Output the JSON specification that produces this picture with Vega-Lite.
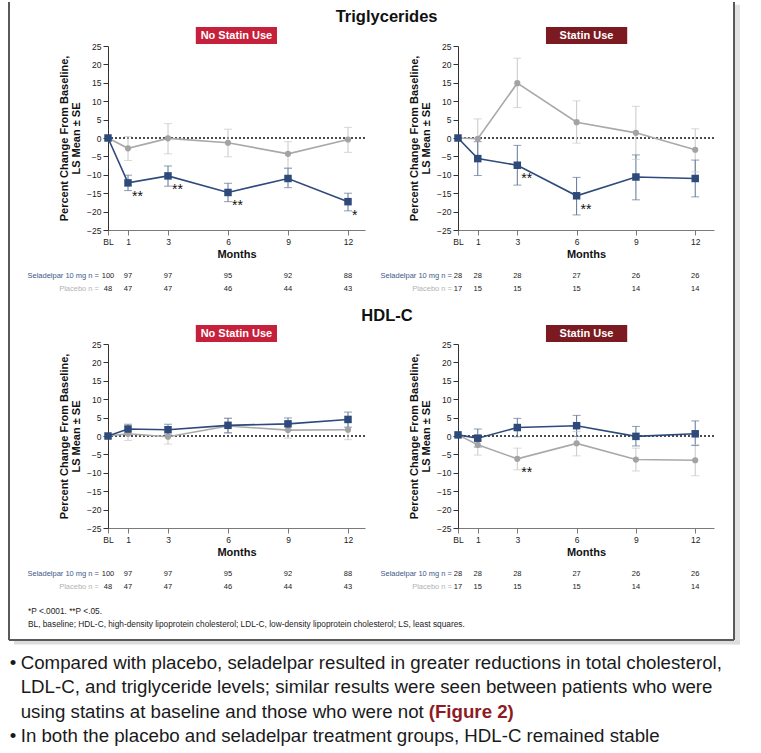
{
  "$schema": "https://vega.github.io/schema/vega-lite/v6.json",
  "background": "white",
  "padding": {"left": 8, "top": 0, "right": 10, "bottom": 4},
  "config": {
    "font": "Liberation Sans",
    "view": {"stroke": null},
    "axis": {"grid": false, "labelFontSize": 8.5, "labelColor": "#222222", "titleColor": "#111111", "titleFontWeight": "bold", "tickSize": 5, "labelPadding": 2, "labelFlush": false, "labelOverlap": false},
    "axisX": {"domainColor": "#7a7a7a", "tickColor": "#7a7a7a", "titleFontSize": 11, "titlePadding": 3},
    "axisY": {"domainColor": "#333333", "tickColor": "#333333", "titleFontSize": 11, "titlePadding": 5, "titleLineHeight": 12.5}
  },
  "datasets": {
    "pts": [
      {"panel": "TG-NS", "group": "Placebo", "month": 0, "mean": 0, "lo": null, "hi": null, "sig": ""},
      {"panel": "TG-NS", "group": "Placebo", "month": 1, "mean": -2.8, "lo": -6.1, "hi": 0.4, "sig": ""},
      {"panel": "TG-NS", "group": "Placebo", "month": 3, "mean": -0.1, "lo": -4.3, "hi": 3.9, "sig": ""},
      {"panel": "TG-NS", "group": "Placebo", "month": 6, "mean": -1.3, "lo": -5.1, "hi": 2.4, "sig": ""},
      {"panel": "TG-NS", "group": "Placebo", "month": 9, "mean": -4.3, "lo": -8.2, "hi": -1.0, "sig": ""},
      {"panel": "TG-NS", "group": "Placebo", "month": 12, "mean": -0.4, "lo": -3.9, "hi": 2.9, "sig": ""},
      {"panel": "TG-NS", "group": "Seladelpar", "month": 0, "mean": 0, "lo": null, "hi": null, "sig": ""},
      {"panel": "TG-NS", "group": "Seladelpar", "month": 1, "mean": -12.2, "lo": -14.3, "hi": -10.1, "sig": "**"},
      {"panel": "TG-NS", "group": "Seladelpar", "month": 3, "mean": -10.3, "lo": -13.1, "hi": -7.6, "sig": "**"},
      {"panel": "TG-NS", "group": "Seladelpar", "month": 6, "mean": -14.8, "lo": -17.3, "hi": -12.3, "sig": "**"},
      {"panel": "TG-NS", "group": "Seladelpar", "month": 9, "mean": -11.0, "lo": -13.5, "hi": -8.2, "sig": ""},
      {"panel": "TG-NS", "group": "Seladelpar", "month": 12, "mean": -17.3, "lo": -19.8, "hi": -15.0, "sig": "*"},
      {"panel": "TG-S", "group": "Placebo", "month": 0, "mean": 0, "lo": null, "hi": null, "sig": ""},
      {"panel": "TG-S", "group": "Placebo", "month": 1, "mean": -0.2, "lo": -5.6, "hi": 5.2, "sig": ""},
      {"panel": "TG-S", "group": "Placebo", "month": 3, "mean": 14.9, "lo": 8.3, "hi": 21.7, "sig": ""},
      {"panel": "TG-S", "group": "Placebo", "month": 6, "mean": 4.3, "lo": -1.4, "hi": 10.1, "sig": ""},
      {"panel": "TG-S", "group": "Placebo", "month": 9, "mean": 1.4, "lo": -5.8, "hi": 8.6, "sig": ""},
      {"panel": "TG-S", "group": "Placebo", "month": 12, "mean": -3.2, "lo": -9.2, "hi": 2.5, "sig": ""},
      {"panel": "TG-S", "group": "Seladelpar", "month": 0, "mean": 0, "lo": null, "hi": null, "sig": ""},
      {"panel": "TG-S", "group": "Seladelpar", "month": 1, "mean": -5.6, "lo": -10.2, "hi": -1.0, "sig": ""},
      {"panel": "TG-S", "group": "Seladelpar", "month": 3, "mean": -7.4, "lo": -12.8, "hi": -2.0, "sig": "**"},
      {"panel": "TG-S", "group": "Seladelpar", "month": 6, "mean": -15.7, "lo": -20.9, "hi": -10.7, "sig": "**"},
      {"panel": "TG-S", "group": "Seladelpar", "month": 9, "mean": -10.6, "lo": -16.8, "hi": -4.6, "sig": ""},
      {"panel": "TG-S", "group": "Seladelpar", "month": 12, "mean": -11.0, "lo": -16.0, "hi": -6.0, "sig": ""},
      {"panel": "HDL-NS", "group": "Placebo", "month": 0, "mean": 0, "lo": null, "hi": null, "sig": ""},
      {"panel": "HDL-NS", "group": "Placebo", "month": 1, "mean": 0.6, "lo": -1.2, "hi": 2.4, "sig": ""},
      {"panel": "HDL-NS", "group": "Placebo", "month": 3, "mean": -0.2, "lo": -2.2, "hi": 1.7, "sig": ""},
      {"panel": "HDL-NS", "group": "Placebo", "month": 6, "mean": 2.7, "lo": 0.7, "hi": 4.9, "sig": ""},
      {"panel": "HDL-NS", "group": "Placebo", "month": 9, "mean": 1.6, "lo": -0.6, "hi": 3.8, "sig": ""},
      {"panel": "HDL-NS", "group": "Placebo", "month": 12, "mean": 1.7, "lo": -1.0, "hi": 3.9, "sig": ""},
      {"panel": "HDL-NS", "group": "Seladelpar", "month": 0, "mean": 0, "lo": null, "hi": null, "sig": ""},
      {"panel": "HDL-NS", "group": "Seladelpar", "month": 1, "mean": 1.9, "lo": 0.6, "hi": 3.2, "sig": ""},
      {"panel": "HDL-NS", "group": "Seladelpar", "month": 3, "mean": 1.7, "lo": 0.3, "hi": 3.2, "sig": ""},
      {"panel": "HDL-NS", "group": "Seladelpar", "month": 6, "mean": 2.9, "lo": 0.9, "hi": 4.8, "sig": ""},
      {"panel": "HDL-NS", "group": "Seladelpar", "month": 9, "mean": 3.3, "lo": 1.7, "hi": 4.9, "sig": ""},
      {"panel": "HDL-NS", "group": "Seladelpar", "month": 12, "mean": 4.5, "lo": 2.4, "hi": 6.5, "sig": ""},
      {"panel": "HDL-S", "group": "Placebo", "month": 0, "mean": 0.3, "lo": null, "hi": null, "sig": ""},
      {"panel": "HDL-S", "group": "Placebo", "month": 1, "mean": -2.4, "lo": -5.2, "hi": 0.4, "sig": ""},
      {"panel": "HDL-S", "group": "Placebo", "month": 3, "mean": -6.2, "lo": -9.2, "hi": -3.3, "sig": "**"},
      {"panel": "HDL-S", "group": "Placebo", "month": 6, "mean": -2.0, "lo": -5.4, "hi": 1.2, "sig": ""},
      {"panel": "HDL-S", "group": "Placebo", "month": 9, "mean": -6.4, "lo": -9.5, "hi": -3.3, "sig": ""},
      {"panel": "HDL-S", "group": "Placebo", "month": 12, "mean": -6.6, "lo": -10.8, "hi": -2.3, "sig": ""},
      {"panel": "HDL-S", "group": "Seladelpar", "month": 0, "mean": 0.3, "lo": null, "hi": null, "sig": ""},
      {"panel": "HDL-S", "group": "Seladelpar", "month": 1, "mean": -0.6, "lo": -3.0, "hi": 1.9, "sig": ""},
      {"panel": "HDL-S", "group": "Seladelpar", "month": 3, "mean": 2.3, "lo": -0.2, "hi": 4.8, "sig": ""},
      {"panel": "HDL-S", "group": "Seladelpar", "month": 6, "mean": 2.8, "lo": -0.1, "hi": 5.6, "sig": ""},
      {"panel": "HDL-S", "group": "Seladelpar", "month": 9, "mean": -0.1, "lo": -2.7, "hi": 2.6, "sig": ""},
      {"panel": "HDL-S", "group": "Seladelpar", "month": 12, "mean": 0.6, "lo": -2.6, "hi": 4.1, "sig": ""}
    ],
    "ns": [
      {"stat": "NS", "group": "Seladelpar", "month": 0, "n": 100},
      {"stat": "NS", "group": "Seladelpar", "month": 1, "n": 97},
      {"stat": "NS", "group": "Seladelpar", "month": 3, "n": 97},
      {"stat": "NS", "group": "Seladelpar", "month": 6, "n": 95},
      {"stat": "NS", "group": "Seladelpar", "month": 9, "n": 92},
      {"stat": "NS", "group": "Seladelpar", "month": 12, "n": 88},
      {"stat": "NS", "group": "Placebo", "month": 0, "n": 48},
      {"stat": "NS", "group": "Placebo", "month": 1, "n": 47},
      {"stat": "NS", "group": "Placebo", "month": 3, "n": 47},
      {"stat": "NS", "group": "Placebo", "month": 6, "n": 46},
      {"stat": "NS", "group": "Placebo", "month": 9, "n": 44},
      {"stat": "NS", "group": "Placebo", "month": 12, "n": 43},
      {"stat": "S", "group": "Seladelpar", "month": 0, "n": 28},
      {"stat": "S", "group": "Seladelpar", "month": 1, "n": 28},
      {"stat": "S", "group": "Seladelpar", "month": 3, "n": 28},
      {"stat": "S", "group": "Seladelpar", "month": 6, "n": 27},
      {"stat": "S", "group": "Seladelpar", "month": 9, "n": 26},
      {"stat": "S", "group": "Seladelpar", "month": 12, "n": 26},
      {"stat": "S", "group": "Placebo", "month": 0, "n": 17},
      {"stat": "S", "group": "Placebo", "month": 1, "n": 15},
      {"stat": "S", "group": "Placebo", "month": 3, "n": 15},
      {"stat": "S", "group": "Placebo", "month": 6, "n": 15},
      {"stat": "S", "group": "Placebo", "month": 9, "n": 14},
      {"stat": "S", "group": "Placebo", "month": 12, "n": 14}
    ],
    "notes": [
      {"line": 1, "text": "Compared with placebo, seladelpar resulted in greater reductions in total cholesterol,", "bullet": true, "ref": ""},
      {"line": 2, "text": "LDL-C, and triglyceride levels; similar results were seen between patients who were", "bullet": false, "ref": ""},
      {"line": 3, "text": "using statins at baseline and those who were not", "bullet": false, "ref": "(Figure 2)"},
      {"line": 4, "text": "In both the placebo and seladelpar treatment groups, HDL-C remained stable", "bullet": true, "ref": ""}
    ]
  },
  "columns": 2,
  "bounds": "flush",
  "spacing": {"row": 114, "column": 93},
  "concat": [
    {
      "width": 257, "height": 184,
      "layer": [
        {"data": {"values": [{"ref": 0}]}, "mark": {"type": "rule", "strokeDash": [2, 2], "strokeWidth": 1.5, "color": "#111111"},
         "encoding": {"y": {"field": "ref", "type": "quantitative", "scale": {"domain": [-25, 25], "nice": false, "zero": false}, "axis": {"values": [-25, -20, -15, -10, -5, 0, 5, 10, 15, 20, 25], "tickCount": 20, "format": "d", "title": ["Percent Change From Baseline,", "LS Mean ± SE"]}}}},
        {"data": {"name": "pts"}, "transform": [{"filter": "datum.panel === 'TG-NS' && isValid(datum.lo)"}],
         "mark": {"type": "rule", "strokeWidth": 1},
         "encoding": {
           "x": {"field": "month", "type": "quantitative", "scale": {"domain": [0, 12.85], "nice": false, "zero": false}, "axis": {"values": [0, 1, 3, 6, 9, 12], "tickCount": 20, "format": "d", "labelExpr": "datum.value === 0 ? 'BL' : datum.label", "title": "Months"}},
           "y": {"field": "lo", "type": "quantitative", "scale": {"domain": [-25, 25], "nice": false, "zero": false}},
           "y2": {"field": "hi"},
           "stroke": {"field": "group", "type": "nominal", "scale": {"domain": ["Seladelpar", "Placebo"], "range": ["#5f7399", "#c8c8c8"]}, "legend": null}}},
        {"data": {"name": "pts"}, "transform": [{"filter": "datum.panel === 'TG-NS' && isValid(datum.lo)"}],
         "mark": {"type": "tick", "orient": "horizontal", "size": 8, "thickness": 1},
         "encoding": {"x": {"field": "month", "type": "quantitative", "scale": {"domain": [0, 12.85], "nice": false, "zero": false}}, "y": {"field": "lo", "type": "quantitative", "scale": {"domain": [-25, 25], "nice": false, "zero": false}},
           "fill": {"field": "group", "type": "nominal", "scale": {"domain": ["Seladelpar", "Placebo"], "range": ["#5f7399", "#c8c8c8"]}, "legend": null}}},
        {"data": {"name": "pts"}, "transform": [{"filter": "datum.panel === 'TG-NS' && isValid(datum.lo)"}],
         "mark": {"type": "tick", "orient": "horizontal", "size": 8, "thickness": 1},
         "encoding": {"x": {"field": "month", "type": "quantitative", "scale": {"domain": [0, 12.85], "nice": false, "zero": false}}, "y": {"field": "hi", "type": "quantitative", "scale": {"domain": [-25, 25], "nice": false, "zero": false}},
           "fill": {"field": "group", "type": "nominal", "scale": {"domain": ["Seladelpar", "Placebo"], "range": ["#5f7399", "#c8c8c8"]}, "legend": null}}},
        {"data": {"name": "pts"}, "transform": [{"filter": "datum.panel === 'TG-NS'"}],
         "mark": {"type": "line", "strokeWidth": 1.6},
         "encoding": {"x": {"field": "month", "type": "quantitative", "scale": {"domain": [0, 12.85], "nice": false, "zero": false}}, "y": {"field": "mean", "type": "quantitative", "scale": {"domain": [-25, 25], "nice": false, "zero": false}},
           "color": {"field": "group", "type": "nominal", "scale": {"domain": ["Seladelpar", "Placebo"], "range": ["#2e4a7b", "#a9a9a9"]}, "legend": null}}},
        {"data": {"name": "pts"}, "transform": [{"filter": "datum.panel === 'TG-NS' && datum.group === 'Placebo'"}],
         "mark": {"type": "circle", "size": 38, "color": "#a3a3a3", "opacity": 1},
         "encoding": {"x": {"field": "month", "type": "quantitative", "scale": {"domain": [0, 12.85], "nice": false, "zero": false}}, "y": {"field": "mean", "type": "quantitative", "scale": {"domain": [-25, 25], "nice": false, "zero": false}}}},
        {"data": {"name": "pts"}, "transform": [{"filter": "datum.panel === 'TG-NS' && datum.group === 'Seladelpar'"}],
         "mark": {"type": "square", "size": 56, "color": "#2e4a7b", "opacity": 1},
         "encoding": {"x": {"field": "month", "type": "quantitative", "scale": {"domain": [0, 12.85], "nice": false, "zero": false}}, "y": {"field": "mean", "type": "quantitative", "scale": {"domain": [-25, 25], "nice": false, "zero": false}}}},
        {"data": {"name": "pts"}, "transform": [{"filter": "datum.panel === 'TG-NS' && datum.sig !== ''"}],
         "mark": {"type": "text", "align": "left", "baseline": "middle", "dx": 4, "dy": 14, "fontSize": 14, "color": "#111111"},
         "encoding": {"x": {"field": "month", "type": "quantitative", "scale": {"domain": [0, 12.85], "nice": false, "zero": false}}, "y": {"field": "mean", "type": "quantitative", "scale": {"domain": [-25, 25], "nice": false, "zero": false}}, "text": {"field": "sig"}}},
        {"data": {"name": "ns"}, "transform": [{"filter": "datum.stat === 'NS' && datum.group === 'Seladelpar'"}],
         "mark": {"type": "text", "baseline": "middle", "fontSize": 7.5, "color": "#222222"},
         "encoding": {"x": {"field": "month", "type": "quantitative", "scale": {"domain": [0, 12.85], "nice": false, "zero": false}}, "y": {"datum": -37.5, "type": "quantitative", "scale": {"domain": [-25, 25], "nice": false, "zero": false}}, "text": {"field": "n"}}},
        {"data": {"name": "ns"}, "transform": [{"filter": "datum.stat === 'NS' && datum.group === 'Placebo'"}],
         "mark": {"type": "text", "baseline": "middle", "fontSize": 7.5, "color": "#222222"},
         "encoding": {"x": {"field": "month", "type": "quantitative", "scale": {"domain": [0, 12.85], "nice": false, "zero": false}}, "y": {"datum": -41.1, "type": "quantitative", "scale": {"domain": [-25, 25], "nice": false, "zero": false}}, "text": {"field": "n"}}},
        {"data": {"values": [{"label": "Seladelpar 10 mg n ="}]},
         "mark": {"type": "text", "align": "right", "baseline": "middle", "dx": -9, "fontSize": 7.5, "color": "#3e5a8b"},
         "encoding": {"x": {"datum": 0, "type": "quantitative", "scale": {"domain": [0, 12.85], "nice": false, "zero": false}}, "y": {"datum": -37.5, "type": "quantitative", "scale": {"domain": [-25, 25], "nice": false, "zero": false}}, "text": {"field": "label"}}},
        {"data": {"values": [{"label": "Placebo n ="}]},
         "mark": {"type": "text", "align": "right", "baseline": "middle", "dx": -9, "fontSize": 7.5, "color": "#b3b3b3"},
         "encoding": {"x": {"datum": 0, "type": "quantitative", "scale": {"domain": [0, 12.85], "nice": false, "zero": false}}, "y": {"datum": -41.1, "type": "quantitative", "scale": {"domain": [-25, 25], "nice": false, "zero": false}}, "text": {"field": "label"}}},
        {"data": {"values": [{"badge": "No Statin Use"}]},
         "mark": {"type": "rect", "color": "#c6203b"},
         "encoding": {"x": {"datum": 4.39, "type": "quantitative", "scale": {"domain": [0, 12.85], "nice": false, "zero": false}}, "x2": {"datum": 8.45}, "y": {"datum": 30.16, "type": "quantitative", "scale": {"domain": [-25, 25], "nice": false, "zero": false}}, "y2": {"datum": 25.54}}},
        {"data": {"values": [{"badge": "No Statin Use"}]},
         "mark": {"type": "text", "baseline": "middle", "fontSize": 11, "fontWeight": "bold", "color": "white"},
         "encoding": {"x": {"datum": 6.42, "type": "quantitative", "scale": {"domain": [0, 12.85], "nice": false, "zero": false}}, "y": {"datum": 27.85, "type": "quantitative", "scale": {"domain": [-25, 25], "nice": false, "zero": false}}, "text": {"field": "badge"}}},
        {"data": {"values": [{"section": "Triglycerides"}]},
         "mark": {"type": "text", "baseline": "middle", "fontSize": 16.5, "fontWeight": "bold", "color": "#111111"},
         "encoding": {"x": {"datum": 13.93, "type": "quantitative", "scale": {"domain": [0, 12.85], "nice": false, "zero": false}}, "y": {"datum": 32.9, "type": "quantitative", "scale": {"domain": [-25, 25], "nice": false, "zero": false}}, "text": {"field": "section"}}},
        {"data": {"values": [{"frame": 1}]}, "mark": {"type": "rule", "color": "#e2e2e2", "strokeWidth": 5},
         "encoding": {"x": {"datum": 31.475, "type": "quantitative", "scale": {"domain": [0, 12.85], "nice": false, "zero": false}}, "y": {"datum": 36.2, "type": "quantitative", "scale": {"domain": [-25, 25], "nice": false, "zero": false}}, "y2": {"datum": -137.6}}},
        {"data": {"values": [{"frame": 1}]}, "mark": {"type": "rule", "color": "#dcdcdc", "strokeWidth": 4},
         "encoding": {"x": {"datum": -4.7, "type": "quantitative", "scale": {"domain": [0, 12.85], "nice": false, "zero": false}}, "x2": {"datum": 31.6}, "y": {"datum": -137.1, "type": "quantitative", "scale": {"domain": [-25, 25], "nice": false, "zero": false}}}},
        {"data": {"values": [{"frame": 1}]}, "mark": {"type": "rule", "color": "#595959", "strokeWidth": 2},
         "encoding": {"x": {"datum": -4.95, "type": "quantitative", "scale": {"domain": [0, 12.85], "nice": false, "zero": false}}, "y": {"datum": 36.96, "type": "quantitative", "scale": {"domain": [-25, 25], "nice": false, "zero": false}}, "y2": {"datum": -136.4}}},
        {"data": {"values": [{"frame": 1}]}, "mark": {"type": "rule", "color": "#595959", "strokeWidth": 2},
         "encoding": {"x": {"datum": 31.3, "type": "quantitative", "scale": {"domain": [0, 12.85], "nice": false, "zero": false}}, "y": {"datum": 36.96, "type": "quantitative", "scale": {"domain": [-25, 25], "nice": false, "zero": false}}, "y2": {"datum": -136.4}}},
        {"data": {"values": [{"frame": 1}]}, "mark": {"type": "rule", "color": "#595959", "strokeWidth": 2},
         "encoding": {"x": {"datum": -4.95, "type": "quantitative", "scale": {"domain": [0, 12.85], "nice": false, "zero": false}}, "x2": {"datum": 31.3}, "y": {"datum": -136.4, "type": "quantitative", "scale": {"domain": [-25, 25], "nice": false, "zero": false}}}}
      ]
    },
    {
      "width": 256, "height": 184,
      "layer": [
        {"data": {"values": [{"ref": 0}]}, "mark": {"type": "rule", "strokeDash": [2, 2], "strokeWidth": 1.5, "color": "#111111"},
         "encoding": {"y": {"field": "ref", "type": "quantitative", "scale": {"domain": [-25, 25], "nice": false, "zero": false}, "axis": {"values": [-25, -20, -15, -10, -5, 0, 5, 10, 15, 20, 25], "tickCount": 20, "format": "d", "title": ["Percent Change From Baseline,", "LS Mean ± SE"]}}}},
        {"data": {"name": "pts"}, "transform": [{"filter": "datum.panel === 'TG-S' && isValid(datum.lo)"}],
         "mark": {"type": "rule", "strokeWidth": 1},
         "encoding": {
           "x": {"field": "month", "type": "quantitative", "scale": {"domain": [0, 12.95], "nice": false, "zero": false}, "axis": {"values": [0, 1, 3, 6, 9, 12], "tickCount": 20, "format": "d", "labelExpr": "datum.value === 0 ? 'BL' : datum.label", "title": "Months"}},
           "y": {"field": "lo", "type": "quantitative", "scale": {"domain": [-25, 25], "nice": false, "zero": false}},
           "y2": {"field": "hi"},
           "stroke": {"field": "group", "type": "nominal", "scale": {"domain": ["Seladelpar", "Placebo"], "range": ["#5f7399", "#c8c8c8"]}, "legend": null}}},
        {"data": {"name": "pts"}, "transform": [{"filter": "datum.panel === 'TG-S' && isValid(datum.lo)"}],
         "mark": {"type": "tick", "orient": "horizontal", "size": 8, "thickness": 1},
         "encoding": {"x": {"field": "month", "type": "quantitative", "scale": {"domain": [0, 12.95], "nice": false, "zero": false}}, "y": {"field": "lo", "type": "quantitative", "scale": {"domain": [-25, 25], "nice": false, "zero": false}},
           "fill": {"field": "group", "type": "nominal", "scale": {"domain": ["Seladelpar", "Placebo"], "range": ["#5f7399", "#c8c8c8"]}, "legend": null}}},
        {"data": {"name": "pts"}, "transform": [{"filter": "datum.panel === 'TG-S' && isValid(datum.lo)"}],
         "mark": {"type": "tick", "orient": "horizontal", "size": 8, "thickness": 1},
         "encoding": {"x": {"field": "month", "type": "quantitative", "scale": {"domain": [0, 12.95], "nice": false, "zero": false}}, "y": {"field": "hi", "type": "quantitative", "scale": {"domain": [-25, 25], "nice": false, "zero": false}},
           "fill": {"field": "group", "type": "nominal", "scale": {"domain": ["Seladelpar", "Placebo"], "range": ["#5f7399", "#c8c8c8"]}, "legend": null}}},
        {"data": {"name": "pts"}, "transform": [{"filter": "datum.panel === 'TG-S'"}],
         "mark": {"type": "line", "strokeWidth": 1.6},
         "encoding": {"x": {"field": "month", "type": "quantitative", "scale": {"domain": [0, 12.95], "nice": false, "zero": false}}, "y": {"field": "mean", "type": "quantitative", "scale": {"domain": [-25, 25], "nice": false, "zero": false}},
           "color": {"field": "group", "type": "nominal", "scale": {"domain": ["Seladelpar", "Placebo"], "range": ["#2e4a7b", "#a9a9a9"]}, "legend": null}}},
        {"data": {"name": "pts"}, "transform": [{"filter": "datum.panel === 'TG-S' && datum.group === 'Placebo'"}],
         "mark": {"type": "circle", "size": 38, "color": "#a3a3a3", "opacity": 1},
         "encoding": {"x": {"field": "month", "type": "quantitative", "scale": {"domain": [0, 12.95], "nice": false, "zero": false}}, "y": {"field": "mean", "type": "quantitative", "scale": {"domain": [-25, 25], "nice": false, "zero": false}}}},
        {"data": {"name": "pts"}, "transform": [{"filter": "datum.panel === 'TG-S' && datum.group === 'Seladelpar'"}],
         "mark": {"type": "square", "size": 56, "color": "#2e4a7b", "opacity": 1},
         "encoding": {"x": {"field": "month", "type": "quantitative", "scale": {"domain": [0, 12.95], "nice": false, "zero": false}}, "y": {"field": "mean", "type": "quantitative", "scale": {"domain": [-25, 25], "nice": false, "zero": false}}}},
        {"data": {"name": "pts"}, "transform": [{"filter": "datum.panel === 'TG-S' && datum.sig !== ''"}],
         "mark": {"type": "text", "align": "left", "baseline": "middle", "dx": 4, "dy": 14, "fontSize": 14, "color": "#111111"},
         "encoding": {"x": {"field": "month", "type": "quantitative", "scale": {"domain": [0, 12.95], "nice": false, "zero": false}}, "y": {"field": "mean", "type": "quantitative", "scale": {"domain": [-25, 25], "nice": false, "zero": false}}, "text": {"field": "sig"}}},
        {"data": {"name": "ns"}, "transform": [{"filter": "datum.stat === 'S' && datum.group === 'Seladelpar'"}],
         "mark": {"type": "text", "baseline": "middle", "fontSize": 7.5, "color": "#222222"},
         "encoding": {"x": {"field": "month", "type": "quantitative", "scale": {"domain": [0, 12.95], "nice": false, "zero": false}}, "y": {"datum": -37.5, "type": "quantitative", "scale": {"domain": [-25, 25], "nice": false, "zero": false}}, "text": {"field": "n"}}},
        {"data": {"name": "ns"}, "transform": [{"filter": "datum.stat === 'S' && datum.group === 'Placebo'"}],
         "mark": {"type": "text", "baseline": "middle", "fontSize": 7.5, "color": "#222222"},
         "encoding": {"x": {"field": "month", "type": "quantitative", "scale": {"domain": [0, 12.95], "nice": false, "zero": false}}, "y": {"datum": -41.1, "type": "quantitative", "scale": {"domain": [-25, 25], "nice": false, "zero": false}}, "text": {"field": "n"}}},
        {"data": {"values": [{"label": "Seladelpar 10 mg n ="}]},
         "mark": {"type": "text", "align": "right", "baseline": "middle", "dx": -6, "fontSize": 7.5, "color": "#3e5a8b"},
         "encoding": {"x": {"datum": 0, "type": "quantitative", "scale": {"domain": [0, 12.95], "nice": false, "zero": false}}, "y": {"datum": -37.5, "type": "quantitative", "scale": {"domain": [-25, 25], "nice": false, "zero": false}}, "text": {"field": "label"}}},
        {"data": {"values": [{"label": "Placebo n ="}]},
         "mark": {"type": "text", "align": "right", "baseline": "middle", "dx": -6, "fontSize": 7.5, "color": "#b3b3b3"},
         "encoding": {"x": {"datum": 0, "type": "quantitative", "scale": {"domain": [0, 12.95], "nice": false, "zero": false}}, "y": {"datum": -41.1, "type": "quantitative", "scale": {"domain": [-25, 25], "nice": false, "zero": false}}, "text": {"field": "label"}}},
        {"data": {"values": [{"badge": "Statin Use"}]},
         "mark": {"type": "rect", "color": "#7b1a20"},
         "encoding": {"x": {"datum": 4.45, "type": "quantitative", "scale": {"domain": [0, 12.95], "nice": false, "zero": false}}, "x2": {"datum": 8.56}, "y": {"datum": 30.16, "type": "quantitative", "scale": {"domain": [-25, 25], "nice": false, "zero": false}}, "y2": {"datum": 25.54}}},
        {"data": {"values": [{"badge": "Statin Use"}]},
         "mark": {"type": "text", "baseline": "middle", "fontSize": 11, "fontWeight": "bold", "color": "white"},
         "encoding": {"x": {"datum": 6.5, "type": "quantitative", "scale": {"domain": [0, 12.95], "nice": false, "zero": false}}, "y": {"datum": 27.85, "type": "quantitative", "scale": {"domain": [-25, 25], "nice": false, "zero": false}}, "text": {"field": "badge"}}}
      ]
    },
    {
      "width": 257, "height": 184,
      "layer": [
        {"data": {"values": [{"ref": 0}]}, "mark": {"type": "rule", "strokeDash": [2, 2], "strokeWidth": 1.5, "color": "#111111"},
         "encoding": {"y": {"field": "ref", "type": "quantitative", "scale": {"domain": [-25, 25], "nice": false, "zero": false}, "axis": {"values": [-25, -20, -15, -10, -5, 0, 5, 10, 15, 20, 25], "tickCount": 20, "format": "d", "title": ["Percent Change From Baseline,", "LS Mean ± SE"]}}}},
        {"data": {"name": "pts"}, "transform": [{"filter": "datum.panel === 'HDL-NS' && isValid(datum.lo)"}],
         "mark": {"type": "rule", "strokeWidth": 1},
         "encoding": {
           "x": {"field": "month", "type": "quantitative", "scale": {"domain": [0, 12.85], "nice": false, "zero": false}, "axis": {"values": [0, 1, 3, 6, 9, 12], "tickCount": 20, "format": "d", "labelExpr": "datum.value === 0 ? 'BL' : datum.label", "title": "Months"}},
           "y": {"field": "lo", "type": "quantitative", "scale": {"domain": [-25, 25], "nice": false, "zero": false}},
           "y2": {"field": "hi"},
           "stroke": {"field": "group", "type": "nominal", "scale": {"domain": ["Seladelpar", "Placebo"], "range": ["#5f7399", "#c8c8c8"]}, "legend": null}}},
        {"data": {"name": "pts"}, "transform": [{"filter": "datum.panel === 'HDL-NS' && isValid(datum.lo)"}],
         "mark": {"type": "tick", "orient": "horizontal", "size": 8, "thickness": 1},
         "encoding": {"x": {"field": "month", "type": "quantitative", "scale": {"domain": [0, 12.85], "nice": false, "zero": false}}, "y": {"field": "lo", "type": "quantitative", "scale": {"domain": [-25, 25], "nice": false, "zero": false}},
           "fill": {"field": "group", "type": "nominal", "scale": {"domain": ["Seladelpar", "Placebo"], "range": ["#5f7399", "#c8c8c8"]}, "legend": null}}},
        {"data": {"name": "pts"}, "transform": [{"filter": "datum.panel === 'HDL-NS' && isValid(datum.lo)"}],
         "mark": {"type": "tick", "orient": "horizontal", "size": 8, "thickness": 1},
         "encoding": {"x": {"field": "month", "type": "quantitative", "scale": {"domain": [0, 12.85], "nice": false, "zero": false}}, "y": {"field": "hi", "type": "quantitative", "scale": {"domain": [-25, 25], "nice": false, "zero": false}},
           "fill": {"field": "group", "type": "nominal", "scale": {"domain": ["Seladelpar", "Placebo"], "range": ["#5f7399", "#c8c8c8"]}, "legend": null}}},
        {"data": {"name": "pts"}, "transform": [{"filter": "datum.panel === 'HDL-NS'"}],
         "mark": {"type": "line", "strokeWidth": 1.6},
         "encoding": {"x": {"field": "month", "type": "quantitative", "scale": {"domain": [0, 12.85], "nice": false, "zero": false}}, "y": {"field": "mean", "type": "quantitative", "scale": {"domain": [-25, 25], "nice": false, "zero": false}},
           "color": {"field": "group", "type": "nominal", "scale": {"domain": ["Seladelpar", "Placebo"], "range": ["#2e4a7b", "#a9a9a9"]}, "legend": null}}},
        {"data": {"name": "pts"}, "transform": [{"filter": "datum.panel === 'HDL-NS' && datum.group === 'Placebo'"}],
         "mark": {"type": "circle", "size": 38, "color": "#a3a3a3", "opacity": 1},
         "encoding": {"x": {"field": "month", "type": "quantitative", "scale": {"domain": [0, 12.85], "nice": false, "zero": false}}, "y": {"field": "mean", "type": "quantitative", "scale": {"domain": [-25, 25], "nice": false, "zero": false}}}},
        {"data": {"name": "pts"}, "transform": [{"filter": "datum.panel === 'HDL-NS' && datum.group === 'Seladelpar'"}],
         "mark": {"type": "square", "size": 56, "color": "#2e4a7b", "opacity": 1},
         "encoding": {"x": {"field": "month", "type": "quantitative", "scale": {"domain": [0, 12.85], "nice": false, "zero": false}}, "y": {"field": "mean", "type": "quantitative", "scale": {"domain": [-25, 25], "nice": false, "zero": false}}}},
        {"data": {"name": "ns"}, "transform": [{"filter": "datum.stat === 'NS' && datum.group === 'Seladelpar'"}],
         "mark": {"type": "text", "baseline": "middle", "fontSize": 7.5, "color": "#222222"},
         "encoding": {"x": {"field": "month", "type": "quantitative", "scale": {"domain": [0, 12.85], "nice": false, "zero": false}}, "y": {"datum": -37.5, "type": "quantitative", "scale": {"domain": [-25, 25], "nice": false, "zero": false}}, "text": {"field": "n"}}},
        {"data": {"name": "ns"}, "transform": [{"filter": "datum.stat === 'NS' && datum.group === 'Placebo'"}],
         "mark": {"type": "text", "baseline": "middle", "fontSize": 7.5, "color": "#222222"},
         "encoding": {"x": {"field": "month", "type": "quantitative", "scale": {"domain": [0, 12.85], "nice": false, "zero": false}}, "y": {"datum": -41.1, "type": "quantitative", "scale": {"domain": [-25, 25], "nice": false, "zero": false}}, "text": {"field": "n"}}},
        {"data": {"values": [{"label": "Seladelpar 10 mg n ="}]},
         "mark": {"type": "text", "align": "right", "baseline": "middle", "dx": -9, "fontSize": 7.5, "color": "#3e5a8b"},
         "encoding": {"x": {"datum": 0, "type": "quantitative", "scale": {"domain": [0, 12.85], "nice": false, "zero": false}}, "y": {"datum": -37.5, "type": "quantitative", "scale": {"domain": [-25, 25], "nice": false, "zero": false}}, "text": {"field": "label"}}},
        {"data": {"values": [{"label": "Placebo n ="}]},
         "mark": {"type": "text", "align": "right", "baseline": "middle", "dx": -9, "fontSize": 7.5, "color": "#b3b3b3"},
         "encoding": {"x": {"datum": 0, "type": "quantitative", "scale": {"domain": [0, 12.85], "nice": false, "zero": false}}, "y": {"datum": -41.1, "type": "quantitative", "scale": {"domain": [-25, 25], "nice": false, "zero": false}}, "text": {"field": "label"}}},
        {"data": {"values": [{"badge": "No Statin Use"}]},
         "mark": {"type": "rect", "color": "#c6203b"},
         "encoding": {"x": {"datum": 4.39, "type": "quantitative", "scale": {"domain": [0, 12.85], "nice": false, "zero": false}}, "x2": {"datum": 8.45}, "y": {"datum": 30.16, "type": "quantitative", "scale": {"domain": [-25, 25], "nice": false, "zero": false}}, "y2": {"datum": 25.54}}},
        {"data": {"values": [{"badge": "No Statin Use"}]},
         "mark": {"type": "text", "baseline": "middle", "fontSize": 11, "fontWeight": "bold", "color": "white"},
         "encoding": {"x": {"datum": 6.42, "type": "quantitative", "scale": {"domain": [0, 12.85], "nice": false, "zero": false}}, "y": {"datum": 27.85, "type": "quantitative", "scale": {"domain": [-25, 25], "nice": false, "zero": false}}, "text": {"field": "badge"}}},
        {"data": {"values": [{"section": "HDL-C"}]},
         "mark": {"type": "text", "baseline": "middle", "fontSize": 16.5, "fontWeight": "bold", "color": "#111111"},
         "encoding": {"x": {"datum": 13.95, "type": "quantitative", "scale": {"domain": [0, 12.85], "nice": false, "zero": false}}, "y": {"datum": 32.5, "type": "quantitative", "scale": {"domain": [-25, 25], "nice": false, "zero": false}}, "text": {"field": "section"}}}
      ]
    },
    {
      "width": 256, "height": 184,
      "layer": [
        {"data": {"values": [{"ref": 0}]}, "mark": {"type": "rule", "strokeDash": [2, 2], "strokeWidth": 1.5, "color": "#111111"},
         "encoding": {"y": {"field": "ref", "type": "quantitative", "scale": {"domain": [-25, 25], "nice": false, "zero": false}, "axis": {"values": [-25, -20, -15, -10, -5, 0, 5, 10, 15, 20, 25], "tickCount": 20, "format": "d", "title": ["Percent Change From Baseline,", "LS Mean ± SE"]}}}},
        {"data": {"name": "pts"}, "transform": [{"filter": "datum.panel === 'HDL-S' && isValid(datum.lo)"}],
         "mark": {"type": "rule", "strokeWidth": 1},
         "encoding": {
           "x": {"field": "month", "type": "quantitative", "scale": {"domain": [0, 12.95], "nice": false, "zero": false}, "axis": {"values": [0, 1, 3, 6, 9, 12], "tickCount": 20, "format": "d", "labelExpr": "datum.value === 0 ? 'BL' : datum.label", "title": "Months"}},
           "y": {"field": "lo", "type": "quantitative", "scale": {"domain": [-25, 25], "nice": false, "zero": false}},
           "y2": {"field": "hi"},
           "stroke": {"field": "group", "type": "nominal", "scale": {"domain": ["Seladelpar", "Placebo"], "range": ["#5f7399", "#c8c8c8"]}, "legend": null}}},
        {"data": {"name": "pts"}, "transform": [{"filter": "datum.panel === 'HDL-S' && isValid(datum.lo)"}],
         "mark": {"type": "tick", "orient": "horizontal", "size": 8, "thickness": 1},
         "encoding": {"x": {"field": "month", "type": "quantitative", "scale": {"domain": [0, 12.95], "nice": false, "zero": false}}, "y": {"field": "lo", "type": "quantitative", "scale": {"domain": [-25, 25], "nice": false, "zero": false}},
           "fill": {"field": "group", "type": "nominal", "scale": {"domain": ["Seladelpar", "Placebo"], "range": ["#5f7399", "#c8c8c8"]}, "legend": null}}},
        {"data": {"name": "pts"}, "transform": [{"filter": "datum.panel === 'HDL-S' && isValid(datum.lo)"}],
         "mark": {"type": "tick", "orient": "horizontal", "size": 8, "thickness": 1},
         "encoding": {"x": {"field": "month", "type": "quantitative", "scale": {"domain": [0, 12.95], "nice": false, "zero": false}}, "y": {"field": "hi", "type": "quantitative", "scale": {"domain": [-25, 25], "nice": false, "zero": false}},
           "fill": {"field": "group", "type": "nominal", "scale": {"domain": ["Seladelpar", "Placebo"], "range": ["#5f7399", "#c8c8c8"]}, "legend": null}}},
        {"data": {"name": "pts"}, "transform": [{"filter": "datum.panel === 'HDL-S'"}],
         "mark": {"type": "line", "strokeWidth": 1.6},
         "encoding": {"x": {"field": "month", "type": "quantitative", "scale": {"domain": [0, 12.95], "nice": false, "zero": false}}, "y": {"field": "mean", "type": "quantitative", "scale": {"domain": [-25, 25], "nice": false, "zero": false}},
           "color": {"field": "group", "type": "nominal", "scale": {"domain": ["Seladelpar", "Placebo"], "range": ["#2e4a7b", "#a9a9a9"]}, "legend": null}}},
        {"data": {"name": "pts"}, "transform": [{"filter": "datum.panel === 'HDL-S' && datum.group === 'Placebo'"}],
         "mark": {"type": "circle", "size": 38, "color": "#a3a3a3", "opacity": 1},
         "encoding": {"x": {"field": "month", "type": "quantitative", "scale": {"domain": [0, 12.95], "nice": false, "zero": false}}, "y": {"field": "mean", "type": "quantitative", "scale": {"domain": [-25, 25], "nice": false, "zero": false}}}},
        {"data": {"name": "pts"}, "transform": [{"filter": "datum.panel === 'HDL-S' && datum.group === 'Seladelpar'"}],
         "mark": {"type": "square", "size": 56, "color": "#2e4a7b", "opacity": 1},
         "encoding": {"x": {"field": "month", "type": "quantitative", "scale": {"domain": [0, 12.95], "nice": false, "zero": false}}, "y": {"field": "mean", "type": "quantitative", "scale": {"domain": [-25, 25], "nice": false, "zero": false}}}},
        {"data": {"name": "pts"}, "transform": [{"filter": "datum.panel === 'HDL-S' && datum.sig !== ''"}],
         "mark": {"type": "text", "align": "left", "baseline": "middle", "dx": 4, "dy": 14, "fontSize": 14, "color": "#111111"},
         "encoding": {"x": {"field": "month", "type": "quantitative", "scale": {"domain": [0, 12.95], "nice": false, "zero": false}}, "y": {"field": "mean", "type": "quantitative", "scale": {"domain": [-25, 25], "nice": false, "zero": false}}, "text": {"field": "sig"}}},
        {"data": {"name": "ns"}, "transform": [{"filter": "datum.stat === 'S' && datum.group === 'Seladelpar'"}],
         "mark": {"type": "text", "baseline": "middle", "fontSize": 7.5, "color": "#222222"},
         "encoding": {"x": {"field": "month", "type": "quantitative", "scale": {"domain": [0, 12.95], "nice": false, "zero": false}}, "y": {"datum": -37.5, "type": "quantitative", "scale": {"domain": [-25, 25], "nice": false, "zero": false}}, "text": {"field": "n"}}},
        {"data": {"name": "ns"}, "transform": [{"filter": "datum.stat === 'S' && datum.group === 'Placebo'"}],
         "mark": {"type": "text", "baseline": "middle", "fontSize": 7.5, "color": "#222222"},
         "encoding": {"x": {"field": "month", "type": "quantitative", "scale": {"domain": [0, 12.95], "nice": false, "zero": false}}, "y": {"datum": -41.1, "type": "quantitative", "scale": {"domain": [-25, 25], "nice": false, "zero": false}}, "text": {"field": "n"}}},
        {"data": {"values": [{"label": "Seladelpar 10 mg n ="}]},
         "mark": {"type": "text", "align": "right", "baseline": "middle", "dx": -6, "fontSize": 7.5, "color": "#3e5a8b"},
         "encoding": {"x": {"datum": 0, "type": "quantitative", "scale": {"domain": [0, 12.95], "nice": false, "zero": false}}, "y": {"datum": -37.5, "type": "quantitative", "scale": {"domain": [-25, 25], "nice": false, "zero": false}}, "text": {"field": "label"}}},
        {"data": {"values": [{"label": "Placebo n ="}]},
         "mark": {"type": "text", "align": "right", "baseline": "middle", "dx": -6, "fontSize": 7.5, "color": "#b3b3b3"},
         "encoding": {"x": {"datum": 0, "type": "quantitative", "scale": {"domain": [0, 12.95], "nice": false, "zero": false}}, "y": {"datum": -41.1, "type": "quantitative", "scale": {"domain": [-25, 25], "nice": false, "zero": false}}, "text": {"field": "label"}}},
        {"data": {"values": [{"badge": "Statin Use"}]},
         "mark": {"type": "rect", "color": "#7b1a20"},
         "encoding": {"x": {"datum": 4.45, "type": "quantitative", "scale": {"domain": [0, 12.95], "nice": false, "zero": false}}, "x2": {"datum": 8.56}, "y": {"datum": 30.16, "type": "quantitative", "scale": {"domain": [-25, 25], "nice": false, "zero": false}}, "y2": {"datum": 25.54}}},
        {"data": {"values": [{"badge": "Statin Use"}]},
         "mark": {"type": "text", "baseline": "middle", "fontSize": 11, "fontWeight": "bold", "color": "white"},
         "encoding": {"x": {"datum": 6.5, "type": "quantitative", "scale": {"domain": [0, 12.95], "nice": false, "zero": false}}, "y": {"datum": 27.85, "type": "quantitative", "scale": {"domain": [-25, 25], "nice": false, "zero": false}}, "text": {"field": "badge"}}}
      ]
    },
    {
      "width": 250, "height": 73,
      "title": {"text": ["*P <.0001. **P <.05.", "BL, baseline; HDL-C, high-density lipoprotein cholesterol; LDL-C, low-density lipoprotein cholesterol; LS, least squares."], "anchor": "start", "frame": "group", "fontSize": 8.3, "fontWeight": "normal", "color": "#222222", "lineHeight": 13, "dx": -80, "offset": 14},
      "data": {"name": "notes"},
      "layer": [
        {"mark": {"type": "text", "align": "left", "baseline": "middle", "fontSize": 18.7, "dx": -87.3, "dy": 21, "color": "#1a1a1a"},
         "encoding": {"x": {"datum": 0, "type": "quantitative", "scale": {"domain": [0, 1]}, "axis": null}, "y": {"field": "line", "type": "ordinal", "axis": null, "scale": {"type": "point", "padding": 0}}, "text": {"field": "text"}}},
        {"transform": [{"filter": "datum.bullet"}],
         "mark": {"type": "text", "align": "left", "baseline": "middle", "fontSize": 18.7, "dx": -98.3, "dy": 21, "color": "#1a1a1a"},
         "encoding": {"x": {"datum": 0, "type": "quantitative", "scale": {"domain": [0, 1]}, "axis": null}, "y": {"field": "line", "type": "ordinal", "axis": null, "scale": {"type": "point", "padding": 0}}, "text": {"value": "•"}}},
        {"transform": [{"filter": "datum.ref !== ''"}],
         "mark": {"type": "text", "align": "left", "baseline": "middle", "fontSize": 18.7, "fontWeight": "bold", "dx": 320.7, "dy": 21, "color": "#8e1b24"},
         "encoding": {"x": {"datum": 0, "type": "quantitative", "scale": {"domain": [0, 1]}, "axis": null}, "y": {"field": "line", "type": "ordinal", "axis": null, "scale": {"type": "point", "padding": 0}}, "text": {"field": "ref"}}}
      ]
    }
  ]
}
